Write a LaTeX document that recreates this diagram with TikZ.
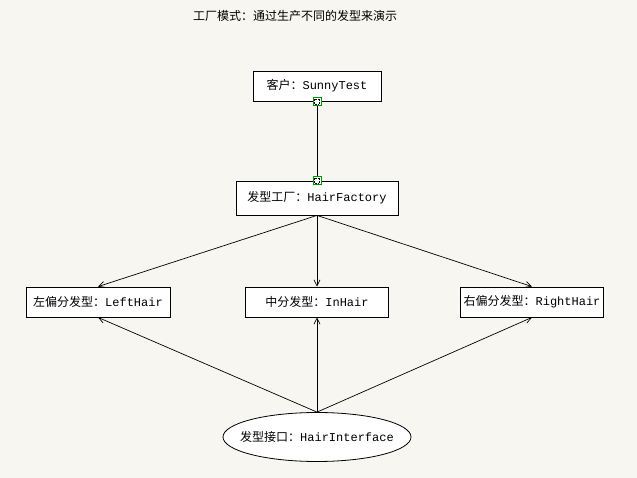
\documentclass[tikz,border=0pt]{standalone}
\usepackage{fontspec}
\setmainfont{Liberation Mono}
\newfontfamily\cjk{Noto Sans CJK SC}
\usetikzlibrary{arrows.meta,shapes.geometric}
\definecolor{bgc}{RGB}{248,246,240}
\definecolor{handle}{RGB}{0,150,0}
\tikzset{
  box/.style={draw=black, fill=white, line width=0.8pt, inner sep=0pt, minimum height=30, font=\fontsize{12}{14}\selectfont},
  oval/.style={ellipse, draw=black, fill=white, line width=0.8pt, inner xsep=-12, inner ysep=0pt, minimum width=188, minimum height=49, font=\fontsize{12}{14}\selectfont},
  conn/.style={line width=0.7pt, -{Straight Barb[length=6pt,width=6pt]}},
  plain/.style={line width=0.7pt},
  hnd/.style={draw=handle, fill=white, line width=0.8pt, minimum size=8, inner sep=0pt}
}
\begin{document}
\begin{tikzpicture}[x=1pt,y=-1pt]
\fill[bgc] (0,0) rectangle (637,478);
\useasboundingbox (0,0) rectangle (637,478);
\node[font=\fontsize{12}{14}\selectfont\cjk] (title) at (295,16) {工厂模式：通过生产不同的发型来演示};
\node[box, minimum width=128] (client) at (317,86) {{\cjk 客户：}SunnyTest};
\node[box, minimum width=162, minimum height=34] (factory) at (317,198) {{\cjk 发型工厂：}HairFactory};
\node[box, minimum width=144] (left) at (98,302) {{\cjk 左偏分发型：}LeftHair};
\node[box, minimum width=143] (mid) at (317,302) {{\cjk 中分发型：}InHair};
\node[box, minimum width=143] (right) at (532,302) {{\cjk 右偏分发型：}RightHair};
\node[oval] (iface) at (317,437) {{\cjk 发型接口：}HairInterface};
\draw[plain] (client.south) -- (factory.north);
\node[hnd] (h1) at (client.south) {};
\node[hnd] (h2) at (factory.north) {};
\draw[densely dotted, line width=0.6pt] ([xshift=-2.5,yshift=-2.5]h1.center) rectangle ([xshift=2.5,yshift=2.5]h1.center);
\draw[densely dotted, line width=0.6pt] ([xshift=-2.5,yshift=-2.5]h2.center) rectangle ([xshift=2.5,yshift=2.5]h2.center);
\draw[conn] (factory.south) -- (left.north);
\draw[conn] (factory.south) -- (mid.north);
\draw[conn] (factory.south) -- (right.north);
\draw[conn] (iface.north) -- (left.south);
\draw[conn] (iface.north) -- (mid.south);
\draw[conn] (iface.north) -- (right.south);
\end{tikzpicture}
\end{document}
